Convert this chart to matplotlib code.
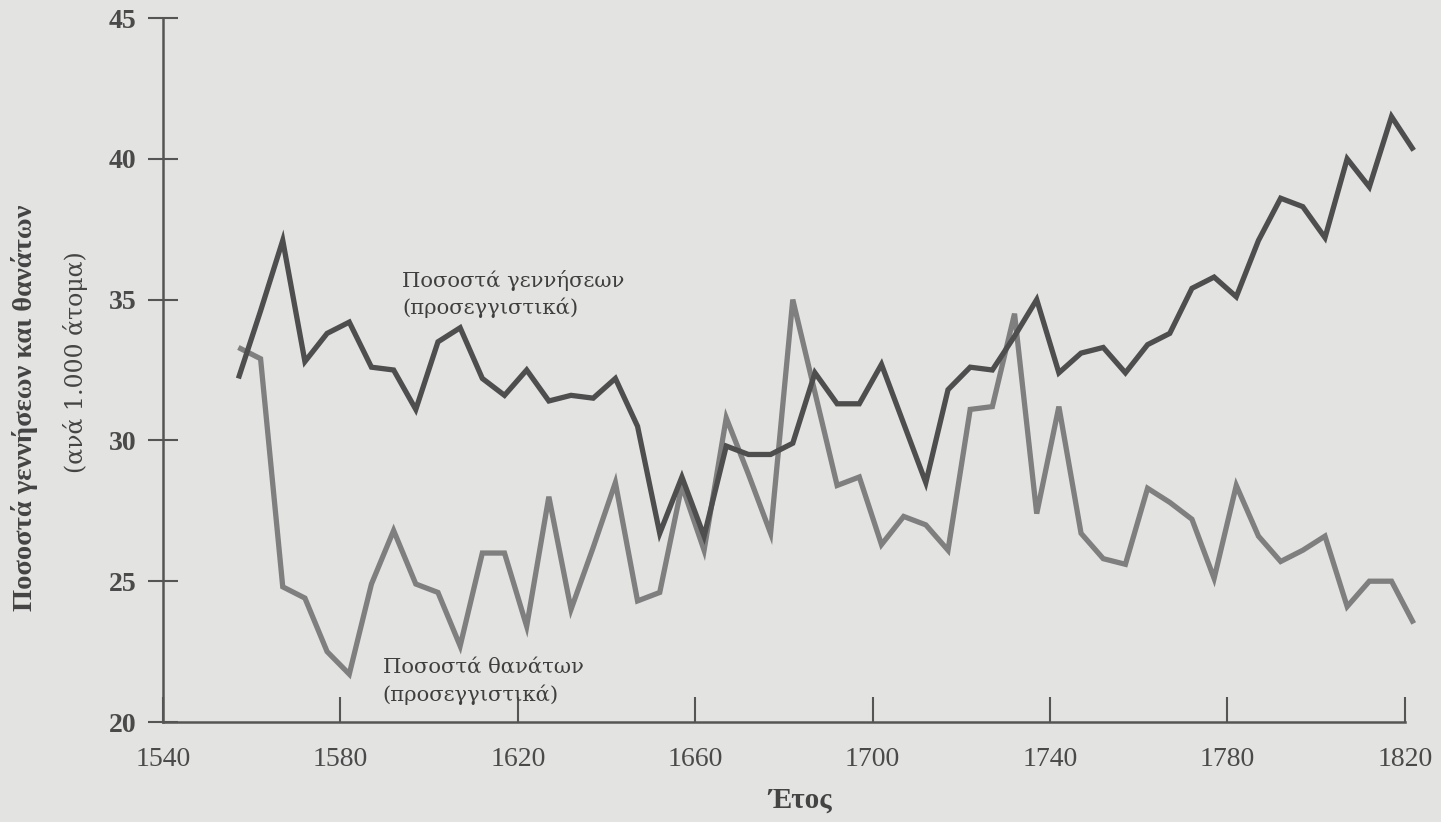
import matplotlib
matplotlib.use("Agg")
import matplotlib.pyplot as plt

# ---- data ----
years = [1557, 1562, 1567, 1572, 1577, 1582, 1587, 1592, 1597, 1602,
         1607, 1612, 1617, 1622, 1627, 1632, 1637, 1642, 1647, 1652,
         1657, 1662, 1667, 1672, 1677, 1682, 1687, 1692, 1697, 1702,
         1707, 1712, 1717, 1722, 1727, 1732, 1737, 1742, 1747, 1752,
         1757, 1762, 1767, 1772, 1777, 1782, 1787, 1792, 1797, 1802,
         1807, 1812, 1817, 1822]

births = [32.2, 34.6, 37.1, 32.8, 33.8, 34.2, 32.6, 32.5, 31.1, 33.5,
          34.0, 32.2, 31.6, 32.5, 31.4, 31.6, 31.5, 32.2, 30.5, 26.7,
          28.7, 26.6, 29.8, 29.5, 29.5, 29.9, 32.4, 31.3, 31.3, 32.7,
          30.6, 28.5, 31.8, 32.6, 32.5, 33.7, 35.0, 32.4, 33.1, 33.3,
          32.4, 33.4, 33.8, 35.4, 35.8, 35.1, 37.1, 38.6, 38.3, 37.2,
          40.0, 39.0, 41.5, 40.3]

deaths = [33.3, 32.9, 24.8, 24.4, 22.5, 21.7, 24.9, 26.8, 24.9, 24.6,
          22.7, 26.0, 26.0, 23.4, 28.0, 24.0, 26.2, 28.5, 24.3, 24.6,
          28.4, 26.1, 30.8, 28.8, 26.7, 35.0, 31.7, 28.4, 28.7, 26.3,
          27.3, 27.0, 26.1, 31.1, 31.2, 34.5, 27.4, 31.2, 26.7, 25.8,
          25.6, 28.3, 27.8, 27.2, 25.1, 28.4, 26.6, 25.7, 26.1, 26.6,
          24.1, 25.0, 25.0, 23.5]

xticks = [1540, 1580, 1620, 1660, 1700, 1740, 1780, 1820]
yticks = [20, 25, 30, 35, 40, 45]

label_births = "Ποσοστά γεννήσεων\n(προσεγγιστικά)"
label_deaths = "Ποσοστά θανάτων\n(προσεγγιστικά)"
ylabel_main = "Ποσοστά γεννήσεων και θανάτων"
ylabel_sub = "(ανά 1.000 άτομα)"
xlabel = "Έτος"

# ---- style ----
W, H, DPI = 1441, 822, 100
bg = "#e3e3e1"
axis_col = "#555555"
text_col = "#4a4a4a"
serif = ["Liberation Serif", "DejaVu Serif"]
serif2 = ["DejaVu Serif", "Liberation Serif"]

fig = plt.figure(figsize=(W / DPI, H / DPI), dpi=DPI, facecolor=bg)
left_px, right_px, bottom_px, top_px = 163, 1427, 722, 18
ax = fig.add_axes([left_px / W, 1 - bottom_px / H,
                   (right_px - left_px) / W, (bottom_px - top_px) / H])
ax.set_facecolor(bg)

ax.plot(years, deaths, color="#7f7f7f", lw=3.8, solid_joinstyle="miter",
        solid_capstyle="butt", zorder=3)
ax.plot(years, births, color="#4e4e4e", lw=3.8, solid_joinstyle="miter",
        solid_capstyle="butt", zorder=4)

ax.set_xlim(1540, 1825)
ax.set_ylim(20, 45)

for s in ("top", "right"):
    ax.spines[s].set_visible(False)
for s in ("left", "bottom"):
    ax.spines[s].set_color(axis_col)
    ax.spines[s].set_linewidth(1.8)
ax.spines["bottom"].set_bounds(1540, 1820)
ax.spines["left"].set_bounds(20, 45)

ax.set_xticks(xticks)
ax.set_yticks(yticks)
ax.tick_params(axis="x", direction="in", length=18, width=1.5, color=axis_col,
               pad=18)
ax.tick_params(axis="y", direction="inout", length=22, width=1.5, color=axis_col,
               pad=8)
for lab in ax.get_xticklabels():
    lab.set_fontfamily(serif)
    lab.set_fontsize(20)
    lab.set_color(text_col)
for lab in ax.get_yticklabels():
    lab.set_fontfamily(serif)
    lab.set_fontsize(20)
    lab.set_fontweight("bold")
    lab.set_color(text_col)

ax.text(1594.0, 35.2, label_births, fontsize=15.2, family=serif2, color="#3f3f3f",
        ha="left", va="center", linespacing=1.45, zorder=5)
ax.text(1589.5, 21.45, label_deaths, fontsize=15.2, family=serif2, color="#3f3f3f",
        ha="left", va="center", linespacing=1.45, zorder=5)

fig.text(25 / W, 1 - 408 / H, ylabel_main, rotation=90, fontsize=20.5,
         fontweight="bold", family=serif, color="#444444", ha="center", va="center")
fig.text(76 / W, 1 - 362 / H, ylabel_sub, rotation=90, fontsize=17,
         family=serif2, color="#444444", ha="center", va="center")
fig.text(800 / W, 1 - 800 / H, xlabel, fontsize=21, fontweight="bold",
         family=serif, color="#444444", ha="center", va="center")

fig.savefig("out.png", dpi=DPI, facecolor=bg)
